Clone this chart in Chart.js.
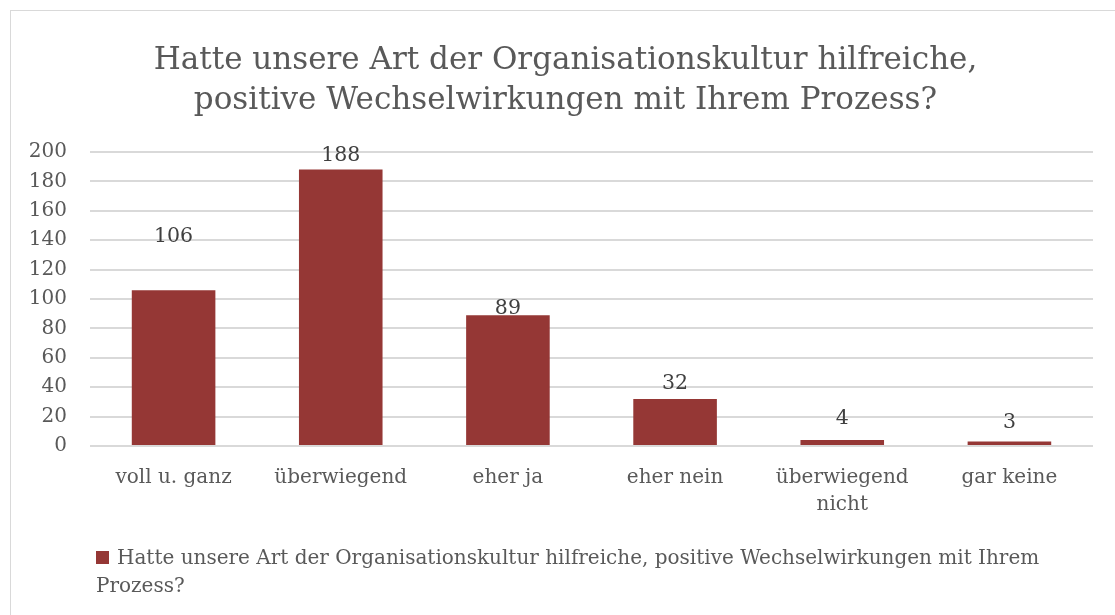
<!DOCTYPE html>
<html lang="de">
<head>
    <meta charset="UTF-8">
    <title>Organisationskultur</title>
    <script src="https://cdn.jsdelivr.net/npm/chart.js"></script>
    <style>
        html, body {
            margin: 0;
            padding: 0;
            background: #fff;
            width: 1115px;
            height: 615px;
            overflow: hidden;
        }

        .frame {
            position: absolute;
            left: 10px;
            top: 10px;
            width: 1120px;
            height: 620px;
            border: 1px solid #d9d9d9;
            box-sizing: border-box;
        }

        #chartBox {
            position: absolute;
            left: 0;
            top: 0;
            width: 1115px;
            height: 615px;
        }

        .legend {
            position: absolute;
            left: 96px;
            top: 543px;
            font-family: "DejaVu Serif", serif;
            font-size: 20px;
            line-height: 28px;
            color: #595959;
            white-space: nowrap;
        }

        .legend .swatch {
            display: inline-block;
            width: 13px;
            height: 13px;
            background: #953735;
            margin-right: 8px;
            vertical-align: 0px;
        }
    </style>
</head>
<body>
    <div class="frame"></div>
    <div id="chartBox"><canvas id="kulturChart"></canvas></div>
    <div class="legend">
        <span class="swatch"></span>Hatte unsere Art der Organisationskultur hilfreiche, positive Wechselwirkungen mit Ihrem<br>Prozess?
    </div>

    <script>
        const categories = ['voll u. ganz', 'überwiegend', 'eher ja', 'eher nein', ['überwiegend', 'nicht'], 'gar keine'];
        const answers = [106, 188, 89, 32, 4, 3];
        const seriesName = 'Hatte unsere Art der Organisationskultur hilfreiche, positive Wechselwirkungen mit Ihrem Prozess?';
        const titleLines = ['Hatte unsere Art der Organisationskultur hilfreiche,', 'positive Wechselwirkungen mit Ihrem Prozess?'];

        // how far above the bar top each value label sits (Excel placed them by hand)
        const labelOffsets = [53, 14, 6, 15, 21, 19];

        const fontFamily = '"DejaVu Serif", serif';
        const textGrey = '#595959';

        const valueLabels = {
            id: 'valueLabels',
            afterDatasetsDraw(chart) {
                const ctx = chart.ctx;
                const meta = chart.getDatasetMeta(0);
                ctx.save();
                ctx.font = '20.5px ' + fontFamily;
                ctx.fillStyle = '#404040';
                ctx.textAlign = 'center';
                ctx.textBaseline = 'middle';
                meta.data.forEach((bar, i) => {
                    ctx.fillText(String(answers[i]), bar.x, bar.y - labelOffsets[i]);
                });
                ctx.restore();
            }
        };

        // title is centred on the whole frame, not on the plot
        const titleShift = {
            id: 'titleShift',
            afterLayout(chart) {
                const t = chart.titleBlock;
                if (t) {
                    t.left += 19;
                    t.right += 19;
                }
            }
        };

        const ctx = document.getElementById('kulturChart').getContext('2d');
        new Chart(ctx, {
            type: 'bar',
            data: {
                labels: categories,
                datasets: [{
                    label: seriesName,
                    data: answers,
                    backgroundColor: '#953735',
                    borderWidth: 0,
                    categoryPercentage: 1,
                    barPercentage: 0.5
                }]
            },
            options: {
                responsive: true,
                maintainAspectRatio: false,
                animation: false,
                layout: {
                    padding: { top: 41, right: 22, bottom: 0, left: 0 }
                },
                plugins: {
                    legend: { display: false },
                    tooltip: { enabled: false },
                    title: {
                        display: true,
                        text: titleLines,
                        color: textGrey,
                        font: { family: fontFamily, size: 31, weight: 'normal', lineHeight: 1.29 },
                        padding: { top: 0, bottom: 31 }
                    }
                },
                scales: {
                    x: {
                        grid: { display: false, drawTicks: false },
                        border: { display: false },
                        ticks: {
                            color: textGrey,
                            font: { family: fontFamily, size: 20, lineHeight: 1.35 },
                            padding: 18,
                            maxRotation: 0
                        },
                        afterFit(scale) { scale.height = 169; }
                    },
                    y: {
                        min: 0,
                        max: 200,
                        grid: { color: '#d9d9d9', lineWidth: 2, drawTicks: false },
                        border: { display: false },
                        ticks: {
                            stepSize: 20,
                            color: textGrey,
                            font: { family: fontFamily, size: 20 },
                            padding: 23
                        },
                        afterFit(scale) { scale.width = 90; }
                    }
                }
            },
            plugins: [valueLabels, titleShift]
        });
    </script>
</body>
</html>
